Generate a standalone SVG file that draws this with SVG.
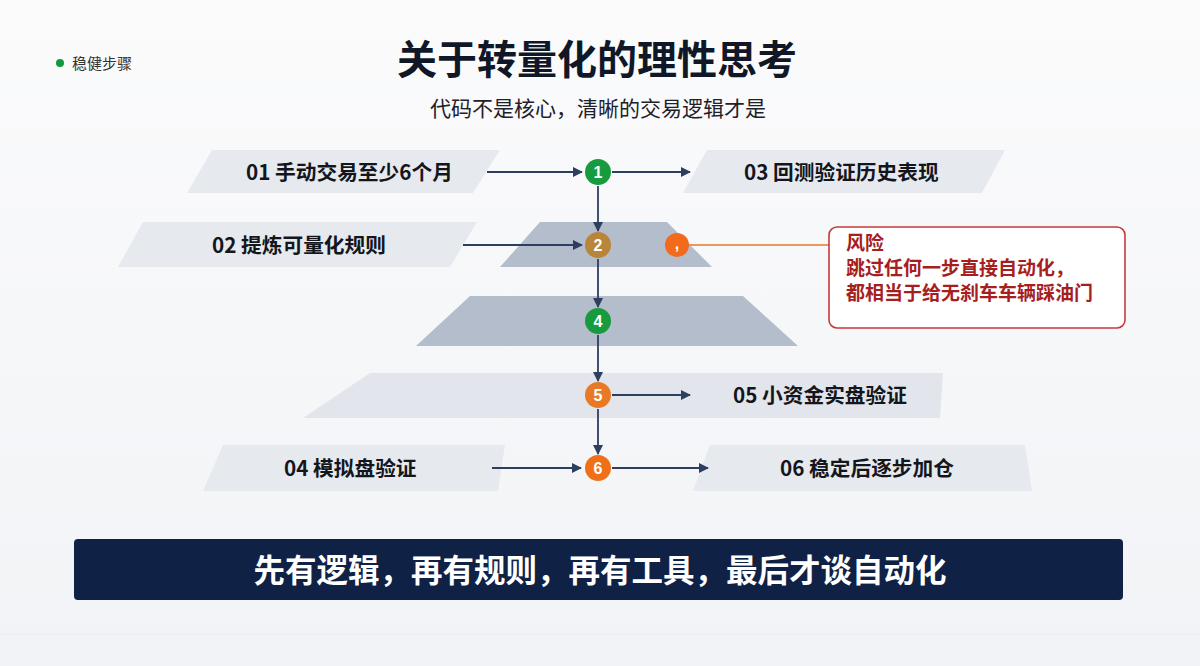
<svg xmlns="http://www.w3.org/2000/svg" width="1200" height="666" viewBox="0 0 1200 666">
<defs>
<linearGradient id="bg" x1="0" y1="0" x2="0" y2="1">
<stop offset="0" stop-color="#fbfbfc"/>
<stop offset="1" stop-color="#f1f3f6"/>
</linearGradient>
<marker id="ah" viewBox="0 0 10 10" refX="9" refY="5" markerWidth="10" markerHeight="10" markerUnits="userSpaceOnUse" orient="auto">
<path d="M0,0 L10,5 L0,10 z" fill="#2d3e5e"/>
</marker>
<style>
.cjk{font-family:"Noto Sans CJK SC","Noto Sans",sans-serif;}
.lbl{font-family:"Noto Sans CJK SC","Noto Sans",sans-serif;font-size:20.7px;font-weight:700;fill:#14161c;}
.band{fill:#e6e9ee;}
.dark{fill:#b4bdcc;}
.num{font-family:"Liberation Sans","Noto Sans CJK SC",sans-serif;font-size:16px;font-weight:700;fill:#ffffff;text-anchor:middle;}
.conn{stroke:#2d3e5e;stroke-width:1.8;fill:none;marker-end:url(#ah);}
.risk{font-family:"Noto Sans CJK SC",sans-serif;font-size:19px;font-weight:700;fill:#a61e1e;}
</style>
</defs>
<rect width="1200" height="666" fill="url(#bg)"/>
<line x1="0" y1="634" x2="1200" y2="634" stroke="#e9ebef" stroke-width="1"/>

<g id="header">
<circle cx="60" cy="63" r="4" fill="#13993c"/>
<text x="72" y="69" class="cjk" font-size="15" fill="#333">稳健步骤</text>
<text x="597" y="74" class="cjk" font-size="40" font-weight="700" fill="#101828" text-anchor="middle">关于转量化的理性思考</text>
<text x="598" y="116" class="cjk" font-size="21" fill="#1e2128" text-anchor="middle">代码不是核心，清晰的交易逻辑才是</text>
</g>

<g id="step01">
<polygon class="band" points="212,150 500,150 473,193 187,193"/>
<text x="246" y="180" class="lbl">01 手动交易至少6个月</text>
</g>
<g id="step03">
<polygon class="band" points="707,150 1005,150 982,193 683,193"/>
<text x="744" y="180" class="lbl">03 回测验证历史表现</text>
</g>
<g id="step02">
<polygon class="band" points="143,222 477,222 450,267 118,267"/>
<text x="212" y="253" class="lbl">02 提炼可量化规则</text>
</g>
<g id="layer2">
<polygon class="dark" points="540,222 667,222 712,267 500,267"/>
</g>
<g id="layer4">
<polygon class="dark" points="470,296 743,296 798,346 416,346"/>
</g>
<g id="step05">
<polygon fill="#e2e5eb" points="370,373 943,373 940,418 303,418"/>
<text x="733" y="403" class="lbl">05 小资金实盘验证</text>
</g>
<g id="step04">
<polygon class="band" points="223,445 505,445 498,491 203,491"/>
<text x="284" y="476" class="lbl">04 模拟盘验证</text>
</g>
<g id="step06">
<polygon class="band" points="710,445 1025,445 1032,491 693,491"/>
<text x="780" y="476" class="lbl">06 稳定后逐步加仓</text>
</g>

<g id="connectors">
<line class="conn" x1="487" y1="172" x2="582" y2="172"/>
<line class="conn" x1="612" y1="172" x2="690" y2="172"/>
<line class="conn" x1="463" y1="245" x2="582" y2="245"/>
<line class="conn" x1="598" y1="186" x2="598" y2="231"/>
<line class="conn" x1="598" y1="259" x2="598" y2="307"/>
<line class="conn" x1="598" y1="335" x2="598" y2="381"/>
<line class="conn" x1="598" y1="409" x2="598" y2="454"/>
<line class="conn" x1="612" y1="395" x2="690" y2="395"/>
<line class="conn" x1="492" y1="468" x2="581" y2="468"/>
<line class="conn" x1="612" y1="468" x2="708" y2="468"/>
<line x1="689" y1="245" x2="829" y2="245" stroke="#e9762f" stroke-width="1.6"/>
</g>

<g id="node1"><circle cx="598" cy="172" r="13" fill="#179b3e"/><text x="598" y="177.5" class="num">1</text></g>
<g id="node2"><circle cx="598" cy="245" r="13" fill="#b88539"/><text x="598" y="250.5" class="num">2</text></g>
<g id="node4"><circle cx="598" cy="321" r="13" fill="#179b3e"/><text x="598" y="326.5" class="num">4</text></g>
<g id="node5"><circle cx="598" cy="395" r="13" fill="#e97a25"/><text x="598" y="400.5" class="num">5</text></g>
<g id="node6"><circle cx="598" cy="468" r="13" fill="#f0701a"/><text x="598" y="473.5" class="num">6</text></g>
<g id="riskdot"><circle cx="677" cy="245" r="12" fill="#f26a1b"/><text x="677" y="249" class="num">,</text></g>

<g id="risk">
<rect x="829" y="227" width="296" height="101" rx="8" fill="#ffffff" stroke="#c63a3c" stroke-width="1.6"/>
<text x="846" y="250" class="risk">风险</text>
<text x="846" y="275" class="risk">跳过任何一步直接自动化，</text>
<text x="846" y="300" class="risk">都相当于给无刹车车辆踩油门</text>
</g>

<g id="banner">
<rect x="74" y="539" width="1049" height="61" rx="4" fill="#0f2145"/>
<text x="600" y="582" class="cjk" font-size="31.5" font-weight="700" fill="#ffffff" text-anchor="middle">先有逻辑，再有规则，再有工具，最后才谈自动化</text>
</g>
</svg>
